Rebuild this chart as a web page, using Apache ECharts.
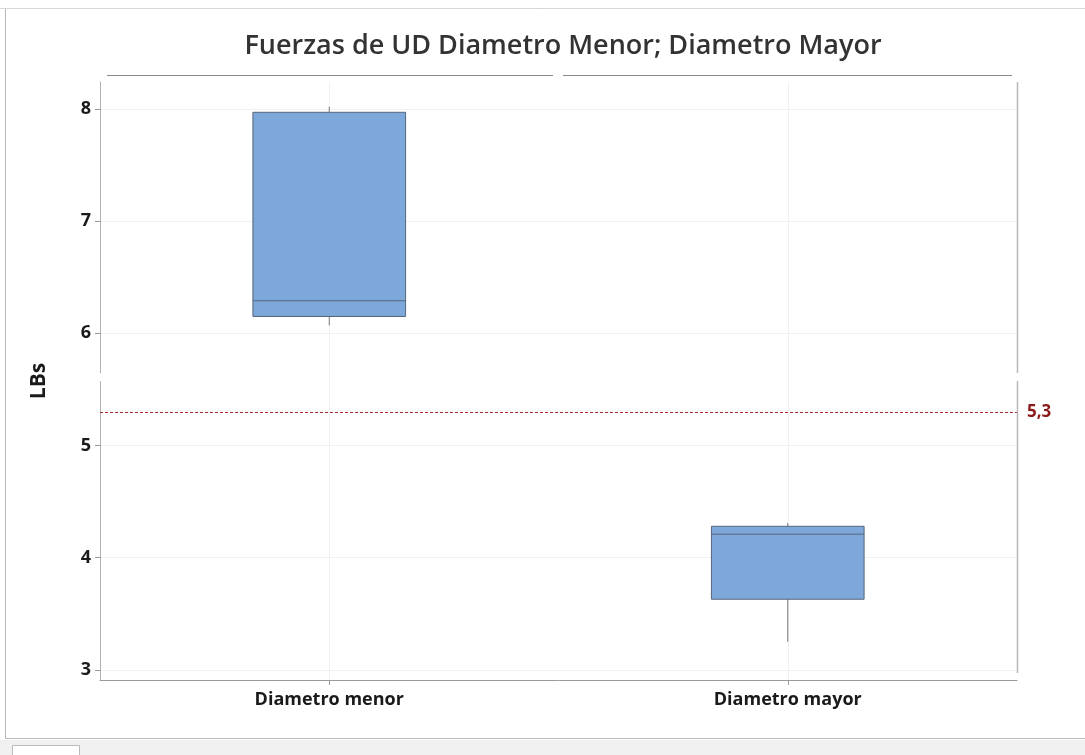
<!DOCTYPE html>
<html>
<head>
<meta charset="utf-8">
<script src="https://cdn.jsdelivr.net/npm/echarts@6/dist/echarts.min.js"></script>
<style>
html,body{margin:0;padding:0;background:#ffffff;}
#chart{width:1085px;height:755px;}
</style>
</head>
<body>
<div id="chart"></div>
<script>
const categories = ['Diametro menor', 'Diametro mayor'];
const whiskerLow = [6.07, 3.25];
const q1Values = [6.15, 3.63];
const medianValues = [6.29, 4.21];
const q3Values = [7.97, 4.28];
const whiskerHigh = [8.02, 4.31];
const yTicks = [3, 4, 5, 6, 7, 8];
const refValue = 5.3;
const refLabel = '5,3';
const titleText = 'Fuerzas de UD Diametro Menor; Diametro Mayor';
const yName = 'LBs';

const boxData = categories.map((c, i) => [i, whiskerLow[i], q1Values[i], medianValues[i], q3Values[i], whiskerHigh[i]]);

const chart = echarts.init(document.getElementById('chart'));
const FONT = '"Open Sans", "Noto Sans", sans-serif';

function renderBox(params, api) {
  const idx = api.value(0);
  const lo = api.coord([idx, api.value(1)]);
  const q1 = api.coord([idx, api.value(2)]);
  const med = api.coord([idx, api.value(3)]);
  const q3 = api.coord([idx, api.value(4)]);
  const hi = api.coord([idx, api.value(5)]);
  const band = api.size([1, 0])[0];
  const w = band * 0.333;
  const x0 = q1[0] - w / 2;
  const x1 = q1[0] + w / 2;
  return {
    type: 'group',
    children: [
      {type: 'line', shape: {x1: lo[0], y1: lo[1], x2: q1[0], y2: q1[1]}, style: {stroke: '#7a7a7a', lineWidth: 1}},
      {type: 'line', shape: {x1: q3[0], y1: q3[1], x2: hi[0], y2: hi[1]}, style: {stroke: '#7a7a7a', lineWidth: 1}},
      {type: 'rect', shape: {x: x0, y: q3[1], width: w, height: q1[1] - q3[1]}, style: {fill: '#7ea7da', stroke: '#56667c', lineWidth: 1}},
      {type: 'line', shape: {x1: x0, y1: med[1], x2: x1, y2: med[1]}, style: {stroke: '#56667c', lineWidth: 1}}
    ]
  };
}

chart.setOption({
  backgroundColor: '#ffffff',
  animation: false,
  title: {
    text: titleText,
    left: 558, top: 28, textAlign: 'center',
    textStyle: {fontFamily: FONT, fontSize: 27, fontWeight: 600, color: '#333333'}
  },
  grid: {left: 100, right: 68, top: 82, bottom: 75},
  xAxis: {
    type: 'category',
    data: categories,
    boundaryGap: true,
    axisLine: {show: true, lineStyle: {color: '#9a9a9a', width: 1}},
    axisTick: {show: true, alignWithLabel: true, length: 5, lineStyle: {color: '#9a9a9a'}},
    axisLabel: {fontFamily: FONT, fontSize: 18, fontWeight: 'bold', color: '#1a1a1a', margin: 11},
    splitLine: {show: false}
  },
  yAxis: {
    type: 'value',
    min: 2.91, max: 8.24,
    name: yName,
    nameLocation: 'middle',
    nameGap: 50,
    nameRotate: 90,
    nameTextStyle: {fontFamily: FONT, fontSize: 21, fontWeight: 'bold', color: '#1a1a1a'},
    axisLine: {show: true, lineStyle: {color: '#b0b0b0', width: 1}},
    axisTick: {show: true, length: 5, customValues: yTicks, lineStyle: {color: '#9a9a9a'}},
    axisLabel: {fontFamily: FONT, fontSize: 18, fontWeight: 'bold', color: '#1a1a1a', margin: 9, customValues: yTicks},
    splitLine: {show: true, lineStyle: {color: '#f1f1f1', width: 1}}
  },
  graphic: [
    {type: 'rect', silent: true, z: 100, shape: {x: 0, y: 740, width: 1085, height: 15}, style: {fill: '#f0f0f0'}},
    {type: 'rect', silent: true, z: 100, shape: {x: 5.5, y: 8.5, width: 1085, height: 730}, style: {fill: 'none', stroke: '#b8b8b8', lineWidth: 1}},
    {type: 'line', silent: true, z: 100, shape: {x1: 0, y1: 8.5, x2: 1085, y2: 8.5}, style: {stroke: '#d8d8d8', lineWidth: 1}},
    {type: 'rect', silent: true, z: 100, shape: {x: 12.5, y: 745.5, width: 67, height: 14}, style: {fill: '#ffffff', stroke: '#bbbbbb', lineWidth: 1}},
    {type: 'line', silent: true, z: 100, shape: {x1: 107, y1: 75.5, x2: 553, y2: 75.5}, style: {stroke: '#8a8a8a', lineWidth: 1}},
    {type: 'line', silent: true, z: 100, shape: {x1: 563, y1: 75.5, x2: 1012, y2: 75.5}, style: {stroke: '#8a8a8a', lineWidth: 1}},
    {type: 'line', silent: true, z: 5, shape: {x1: 1017.5, y1: 82, x2: 1017.5, y2: 373}, style: {stroke: '#b8b8b8', lineWidth: 1.5}},
    {type: 'line', silent: true, z: 5, shape: {x1: 1017.5, y1: 381, x2: 1017.5, y2: 673}, style: {stroke: '#b8b8b8', lineWidth: 1.5}},
    {type: 'rect', silent: true, z: 100, shape: {x: 97, y: 373, width: 6, height: 8}, style: {fill: '#ffffff'}}
  ],
  series: [
    {
      type: 'line',
      data: [],
      z: 1,
      markLine: {
        silent: true,
        z: 1,
        symbol: 'none',
        label: {show: false},
        lineStyle: {color: '#f1f1f1', type: 'solid', width: 1},
        data: categories.map(c => ({xAxis: c}))
      }
    },
    {
      type: 'custom',
      renderItem: renderBox,
      data: boxData,
      encode: {x: 0, y: [1, 2, 3, 4, 5]},
      z: 3,
      markLine: {
        silent: true,
        z: 4,
        symbol: 'none',
        lineStyle: {color: '#a52a2a', type: [3, 2], width: 1},
        label: {show: true, position: 'end', formatter: refLabel, fontFamily: FONT, fontSize: 17, fontWeight: 'bold', color: '#8b1a1a', distance: 10},
        data: [{yAxis: refValue}]
      }
    }
  ]
});
</script>
</body>
</html>
